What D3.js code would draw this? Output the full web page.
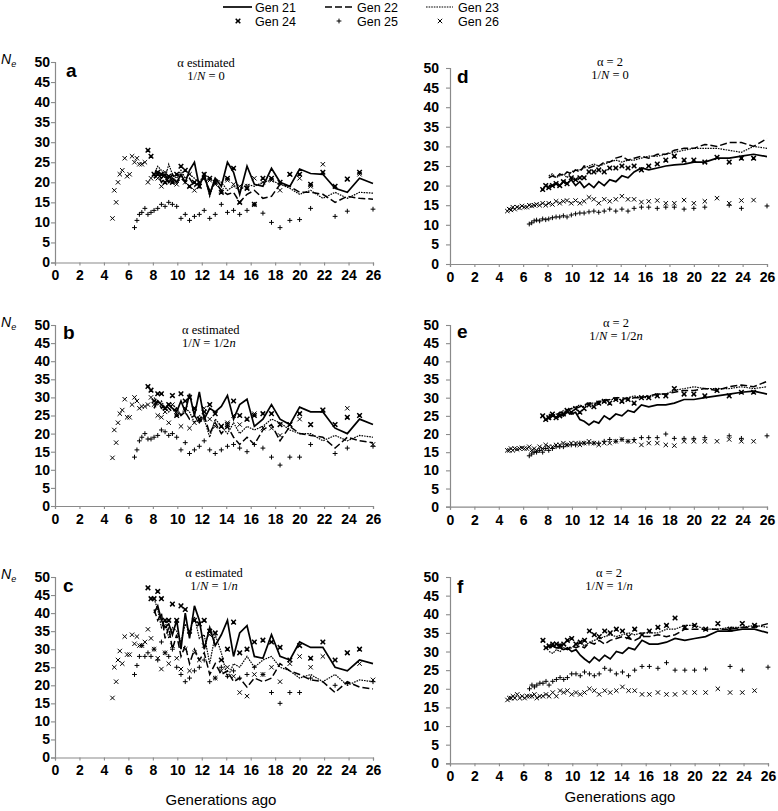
<!DOCTYPE html>
<html><head><meta charset="utf-8">
<script src="https://cdn.jsdelivr.net/npm/d3@7"></script>
<style>
html,body{margin:0;padding:0;background:#fff;}
svg{display:block;}
</style></head>
<body>
<svg id="chart" width="778" height="811"></svg>
<script>
// ---------- data ----------
const gens = [4.7,4.85,5.0,5.15,5.3,5.5,5.7,5.9,6.1,6.3,
  6.5,6.7,6.9,7.1,7.35,7.6,7.85,
  8.1,8.4,8.7,9.0,9.3,9.6,9.95,10.3,10.65,11.0,11.4,11.8,12.2,12.65,13.1,13.6,
  14.1,14.6,15.1,15.7,16.3,17.0,17.7,18.4,19.2,20.0,20.9,21.9,22.9,23.9,24.9,26.0];
const seriesNames = ["Gen 21","Gen 22","Gen 23","Gen 24","Gen 25","Gen 26"];
const panelLetters = ["a","b","c","d","e","f"];
const titleAlpha = ["α estimated","α estimated","α estimated","α = 2","α = 2","α = 2"];
const titleInvN = ["0","1/2n","1/n","0","1/2n","1/n"];
const yTicks = [0,5,10,15,20,25,30,35,40,45,50];
const xTicks = [0,2,4,6,8,10,12,14,16,18,20,22,24,26];
const xLabel = "Generations ago";

// panel a
const a21 = [21,22,21,22,20,21,20,22, 20,23,25,19,22,17,21,19, 25,22.5,17,24,19.5,19,23.5,20, 19,23.3,22.2,22,18.5,17.5,21,19.7];
const a22 = [21,22,20,21,20,22,20,21, 20,21,19,20,21,18,20,18, 17,17.5,15,17,18,16,16.5,19.5, 19,17.5,17.5,17,15,16.5,16,15.8];
const a23 = [22,24,23,21,24.5,22,21,23, 21,22,21,20,22,16.5,21,20, 18,19,18,19.5,19,20,20.5,19.5, 18.5,17,18,16,17.5,16,17.5,17.3];
const a24 = [28,26.5, 22,22.5,22,20,21.5,20,22,24, 23,19,20,19,22,21,20,17.5, 21,23.5,15,18.5,14.5,21,21,20, 22,22,19.5,22.5,19,20.8,22.5,null];
const a25 = [8.7,10.5,12,12.5,13.5,12,12.5, 13,13.5,14.5,14,15,14.5,14,11, 12,10.5,11.5,12,13,11,12,14.5, 12.5,13,12,13,14.5,12.3,10,8.7, 10.5,10.7,13.5,null,11.5,12.8,null,13.3];
const a26 = [11,18,15,20,22,23,26,21.5,22,26.5, 25,26,24.5,24.5,25,20,21, 22,21,19,22.5,21,20.5,19.5,21.5, 20,22,18,20,21,20.5,19.5,18, 20.5,19.5,19,19,21,20,20.5,18, 22,21,19,24.5,null,20.8,22,null];
// panel b
const b21 = [27,29,28,27,28,27,26,29, 26,31,25,31.5,24,27,26,27.5, 30.5,24,28,29.5,22,24,28,24, 22.5,27.3,26,26,21.5,20,24,22.5];
const b22 = [28,29,27,28,27,26,27,25, 26,24,25,23,25,20,23,20, 22,19,17,19,17,21,22.5,18, 22,20,19.5,19,16,19,18,17.5];
const b23 = [30,28,29,27,26,28,27,25, 27,26,23,25,24,19,24,22, 20,23,20,22,21,22,24,23, 21,20,20,18,19.5,18,19.5,19];
const b24 = [33,32, 29,31,31,27,28,30.5,25,31, 29,30,27,24,26,28,25.5,22, 22.5,29,25,24,25,25.5,25.5,22.5, 22.5,25.5,22.5,26.5,22.5,24.5,25,null];
const b25 = [13.5,15.5,18,19,20,18.5,18.5, 19,19.5,21,20.5,19.5,20,19,15.5, 17.5,14.5,15.5,16.5,18,15.5,14.5,15.5, 16.5,17,16,15,17,16,13.5,11.3, 13.5,13.5,17,null,14.5,16,null,16.5];
const b26 = [13.3,21,17.5,23,25.5,26.5,29.5,24.5,24.5,28, 30,29,27,27.5,27.5,28,30, 28,25,24.5,26,23,28,25.5,22, 27,21.5,23,24,27,24,22,22, 23,25,22.5,24,25.5,21.5,21.5,19.5, 22.5,24,22.5,26.5,null,27,25,17];
// panel c
const c21 = [40,42,38,36,37,34,38,30, 40,33,42,38,30,36,31,34, 38,28,34.5,36.5,28,27.5,34,28, 27,32,30.5,30.5,25,24,27,26];
const c22 = [41,38,40,33,36,30,34,28, 31,26,30,27,29,23,26,23, 24,21,22,19.5,22,21,22,26, 24,23,21.5,21,18,21,19.5,19];
const c23 = [44,41,36,38,33,36,35,32, 37,35,39,33,34,26,34,29, 22,26,25,28,25,27,28,25, 24,22,23,21,23,20,21.5,21];
const c24 = [47,44, 44,46,44,38,38,42.5,38,42, 41,35,38,37,38,35,34.5,27, 30,37.5,29,30,32,32.5,32,30.5, 27,31,27.5,32,27,29,30,null];
const c25 = [23,25.5,28,31,28,29,28, 30,27,32,29,28,30,25,23, 21,22,24,25,27,21,22,25, 22.5,24,22,23,25,23,18,15, 18,18,22,null,20,20.5,null,21];
const c26 = [16.5,25,21,27,29.5,26,33.5,28.5,28.5,34, 31.5,33.5,31,31,32,35.5,33, 30,27.5,24.5,29,26,31,27.5,24.5, 30,24,29,27,31,34,22,24, 25,22.5,18,17,23,23,25,21, 26,28,25,28,null,29,26,21.5];
// panel d
const d21 = [20,20,20.5,20,21,20.5,21.5,20, 21,19.5,20.5,19.5,21,20,21.5,21, 22.5,22,23.5,24.5,24,24.5,25,25.3, 25.5,26,26,27,27,27.5,28,27.4];
const d22 = [22,22.5,22,23,22.5,23.5,23,24, 23.5,25,24.5,25,25,26,26,27, 27.5,26.5,27,27.5,27,28,28,29, 29.5,29.5,30.5,30,31,31,30,32];
const d23 = [22.5,23,22,22.5,23,22,23.5,24, 24,24.5,25,25.5,25,25.5,26,26.5, 26,26.5,26.5,27,27.5,27.5,28,28.5, 29,29.5,29.5,29.5,29,28.5,30,29.5];
const d24 = [19,20, 19.5,20,20.5,20,21,20.5,22,21.5, 22,22,23.5,23.5,24,23.5,24.5,24.5, 25,24.5,25,24,25,25.5,26.5,27.5, 26.5,26.5,26,27.2,26,27,27,null];
const d25 = [10.2,10.5,11,11.2,11,11.5,11.3, 11.5,11.8,12,12,12.3,12,12.5,12.8, 13,13,13.3,13.5,13.2,13.5,14,13.5, 14,13.5,14.2,14.5,14.5,14.2,14.5,14.5, 14,14.2,14.5,null,15,14.2,null,14.8];
const d26 = [13.5,14,13.8,14.5,14,14.5,14.3,14.8,14.5,14.5, 15,14.8,15,15.2,15,15.5,15, 15.5,15.2,16,15.5,16,16.2,15.5,16.2, 15.5,16,17,16.5,15.5,16.5,16,16.5, 17.3,16.5,16.5,15.8,16,16.2,15.5,15.5, 16.3,15.5,16,16.8,15.5,16.2,16.3,null];
// panel e
const e21 = [24,25,24.5,25.5,25,26,25.5,26, 24,23.5,22.5,23.5,23,25,24,25.5, 25,26.5,26,28,27.5,28,28,28.5, 29.5,29.5,30,30.5,31,31.5,31.8,31];
const e22 = [25,25.5,25,26,26,26.5,27,27, 27.5,28,28.5,28,29,29,29.5,30, 30,29.5,30,30,30.5,31,31,31.5, 32,32,32.5,32,33,33.5,33,34.5];
const e23 = [25.5,25,25.5,25.5,26.5,26,27,27.5, 28,27.5,28.5,28.5,28.5,29.5,29.5,29.5, 29.5,30,30.5,30,30,31,31,32, 32.5,33,32.5,32.5,32.5,33,32.5,33];
const e24 = [25,24, 24.5,25.5,24.5,25,25.5,26.5,26,27, 26,27,28,27.5,28.5,29,28.5,29.5, 29,29.5,28.5,30,30,30.5,30.5,32.5, 31,31,30.5,32,30.5,31.5,31.5,null];
const e25 = [14,14.5,15,15,15.5,15,16, 15.5,16,16.5,16.5,16.5,17,17,17, 17.5,17.5,17.5,17.5,17.5,18,18.5,18, 18.5,18,18.5,19,19,19,20,18.8, 18.8,18.8,19,null,19.5,18.8,null,19.5];
const e26 = [15.5,15.5,16,15.5,16,15.8,16,16.2,16,16, 16.5,15.5,16,15.5,16.5,16,17, 16.5,16.5,17,17,17.5,17,17.5,17.5, 17,17.5,18,17.5,17,17.5,17.5,18, 18.5,18,18,17,17.5,17.5,17,16.8, 18,18,18,18,18.5,18,18,null];
// panel f
const f21 = [31,31.5,31,31,30.5,31,30,30.5, 29,28,27,28.5,27.5,29,28,30, 29.5,31,30.5,33,32,32,32.5,33.5, 33,33.5,34,35.5,35.5,36,36,35];
const f22 = [31,31.5,31,32,31,30.5,31.5,31, 31.5,31,32.5,32,33,32,33,33.5, 34,33.5,33,34,34,34.5,34,34.5, 36,36,36,36,36,36.5,36.5,37.5];
const f23 = [30,29.5,30.5,30,31,30.5,31,32, 32.5,31.5,32.5,33,33.5,34,34.5,34, 34.5,35,34.5,35,35,35,36,36, 37,37,36,36,36.5,36.5,37,36.5];
const f24 = [33,31, 31.5,32,32,31.5,32,33,33.5,32, 32.5,33,35.5,34.5,34,35.5,35,36, 35.5,34,36,34.5,35.5,36.5,37,39, 36.5,37,36,37.5,36,37.5,37,null];
const f25 = [20,21,20.5,21,21.5,21.5,22, 21,22,22.5,23,22.5,23,24,24, 23.5,24.5,24,23.5,24,25.5,25,24, 24.5,23.5,25,26,26,25.5,27,25, 25,25,25.3,null,26,25,null,25.8];
const f26 = [17,17.5,17.5,18,17.5,18.5,17.5,18,17.5,18, 18,18,18.5,17.5,18,18,18.5, 18,19,18,19.5,19,19.5,18.5,19, 18.5,19,20,19.5,18.5,19.5,19,19.5, 20.5,19.5,19.5,18.5,18.5,19,18.5,18.5, 19,19,19,20,19,19,19.5,null];

const panelData = [
  [a21,a22,a23,a24,a25,a26],
  [b21,b22,b23,b24,b25,b26],
  [c21,c22,c23,c24,c25,c26],
  [d21,d22,d23,d24,d25,d26],
  [e21,e22,e23,e24,e25,e26],
  [f21,f22,f23,f24,f25,f26]
];

// ---------- layout ----------
const layout = [
  {x0:55, x1:373, yT:62,  yB:262.5, tx:206, ty:67,  tAlign:"middle", lx:66, ly:77,  ne:true, yl:50},
  {x0:55, x1:373, yT:325, yB:506,   tx:182, ty:334, tAlign:"start",  lx:63, ly:339, ne:true, yl:50},
  {x0:55, x1:373, yT:577, yB:757.5, tx:214, ty:577, tAlign:"middle", lx:63, ly:592, ne:true, yl:50},
  {x0:450,x1:767, yT:68,  yB:264,   tx:610, ty:66,  tAlign:"middle", lx:457,ly:83,  ne:false, yl:439},
  {x0:450,x1:767, yT:325, yB:506.7, tx:616, ty:327, tAlign:"middle", lx:457,ly:338, ne:false, yl:439},
  {x0:450,x1:768, yT:577, yB:763.3, tx:609, ty:577, tAlign:"middle", lx:457,ly:593, ne:false, yl:439}
];
const SANS = "'Liberation Sans', Arial, sans-serif";
const SERIF = "'Liberation Serif', 'Times New Roman', serif";
const AX = "#8a8a8a";

const lineStyles = [
  {w:1.7, dash:null},
  {w:1.5, dash:"7,3"},
  {w:1.2, dash:"1.6,1"}
];
const markerPaths = [
  {d:"M-2.3,-2.3L2.3,2.3M-2.3,2.3L2.3,-2.3M-1.6,0H1.6", w:1.5},
  {d:"M-2.4,0H2.4M0,-2.4V2.4", w:1.0},
  {d:"M-2.2,-2.2L2.2,2.2M-2.2,2.2L2.2,-2.2", w:1.0}
];

const svg = d3.select("#chart");

function alignX(arr){ const off = gens.length - arr.length; return arr.map((v,i)=>({x:gens[off+i], y:v})); }

layout.forEach((L, p) => {
  const x = d3.scaleLinear().domain([0,26]).range([L.x0, L.x1]);
  const y = d3.scaleLinear().domain([0,50]).range([L.yB, L.yT]);
  const g = svg.append("g");

  // axes
  const ya = g.append("g").attr("transform",`translate(${L.x0},0)`)
    .call(d3.axisLeft(y).tickValues(yTicks).tickSize(4).tickPadding(L.x0 - L.yl - 4));
  const xa = g.append("g").attr("transform",`translate(0,${L.yB})`)
    .call(d3.axisBottom(x).tickValues(xTicks).tickSize(3).tickPadding(5));
  [ya, xa].forEach(a => {
    a.select(".domain").attr("stroke", AX).attr("stroke-width",1.2);
    a.selectAll(".tick line").attr("stroke", AX).attr("stroke-width",1.1);
    a.selectAll(".tick text").attr("fill","#000").style("font-family",SANS)
      .style("font-size","14px").style("font-weight","bold");
  });

  const series = panelData[p];
  // lines
  for (let s=0; s<3; s++){
    const pts = alignX(series[s]);
    g.append("path").datum(pts)
      .attr("fill","none").attr("stroke","#000")
      .attr("stroke-width", lineStyles[s].w)
      .attr("stroke-dasharray", lineStyles[s].dash)
      .attr("stroke-linejoin","miter")
      .attr("d", d3.line().defined(d=>d.y!=null).x(d=>x(d.x)).y(d=>y(d.y)));
  }
  // markers
  for (let s=3; s<6; s++){
    const pts = alignX(series[s]).filter(d=>d.y!=null);
    const m = markerPaths[s-3];
    g.append("g").selectAll("path").data(pts).join("path")
      .attr("d", m.d).attr("fill","none").attr("stroke","#000").attr("stroke-width", m.w)
      .attr("transform", d=>`translate(${x(d.x)},${y(d.y)})`);
  }

  // panel letter
  g.append("text").attr("x",L.lx).attr("y",L.ly).text(panelLetters[p])
    .style("font-family",SANS).style("font-weight","bold").style("font-size","19px");

  // title
  g.append("text").attr("x",L.tx).attr("y",L.ty).attr("text-anchor",L.tAlign)
    .style("font-family",SERIF).style("font-size","12.5px").text(titleAlpha[p]);
  const t2 = g.append("text").attr("x",L.tx).attr("y",L.ty+12.5).attr("text-anchor",L.tAlign)
    .style("font-family",SERIF).style("font-size","12.5px");
  t2.append("tspan").text("1/");
  t2.append("tspan").style("font-style","italic").text("N");
  t2.append("tspan").text(p===1 ? " =  " : " = ");
  const rhs = titleInvN[p];
  if (rhs.endsWith("n")) {
    t2.append("tspan").text(rhs.slice(0,-1));
    t2.append("tspan").style("font-style","italic").text("n");
  } else {
    t2.append("tspan").text(rhs);
  }

  // Ne label
  if (L.ne){
    const ne = g.append("text").attr("x",1).attr("y",L.yT+2)
      .style("font-family",SANS).style("font-size","14px");
    ne.append("tspan").style("font-style","italic").text("N");
    ne.append("tspan").attr("dy",3).style("font-size","9px").style("font-style","italic").text("e");
  }
});

// x labels
svg.append("text").attr("x",221).attr("y",805).attr("text-anchor","middle")
  .style("font-family",SANS).style("font-size","15px").text(xLabel);
svg.append("text").attr("x",620).attr("y",802).attr("text-anchor","middle")
  .style("font-family",SANS).style("font-size","15px").text(xLabel);

// legend
const legend = svg.append("g").style("font-family",SANS).style("font-size","12.5px");
const legPos = [
  {sx:223, ex:252, tx:255, y:7},
  {sx:325, ex:355, tx:357, y:7},
  {sx:426, ex:453, tx:458, y:7},
  {mx:238, tx:255, y:21},
  {mx:339, tx:357, y:21},
  {mx:440, tx:458, y:21}
];
seriesNames.forEach((name,i)=>{
  const P = legPos[i];
  if (i<3){
    legend.append("line").attr("x1",P.sx).attr("x2",P.ex).attr("y1",P.y).attr("y2",P.y)
      .attr("stroke","#000").attr("stroke-width",lineStyles[i].w)
      .attr("stroke-dasharray",lineStyles[i].dash);
  } else {
    const m = markerPaths[i-3];
    legend.append("path").attr("d",m.d).attr("fill","none").attr("stroke","#000")
      .attr("stroke-width",m.w).attr("transform",`translate(${P.mx},${P.y})`);
  }
  legend.append("text").attr("x",P.tx).attr("y",P.y+4.5).text(name);
});
</script>
</body></html>
